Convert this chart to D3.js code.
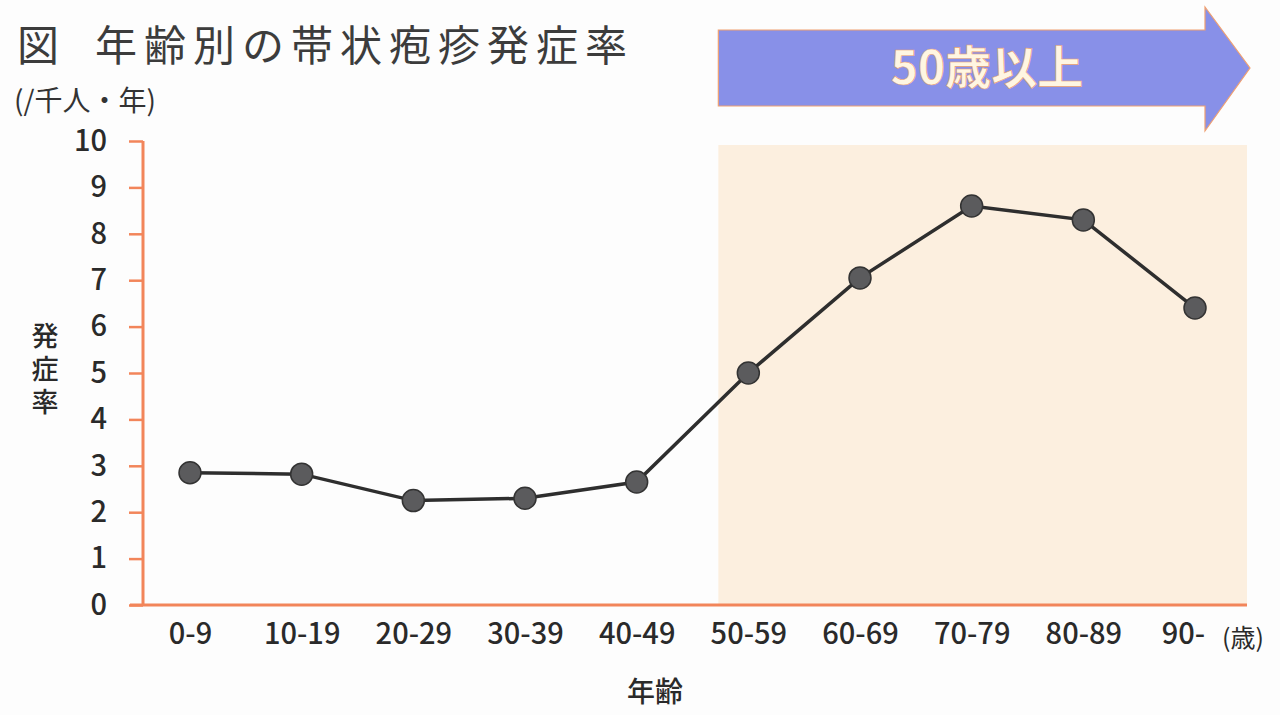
<!DOCTYPE html>
<html lang="ja">
<head>
<meta charset="utf-8">
<script src="https://d3js.org/d3.v7.min.js"></script>
<style>
	body { margin: 0; background: #fdfdfd; }
	svg text { font-family: "Noto Sans CJK JP", "Noto Sans", sans-serif; }
</style>
<title>年齢別の帯状疱疹発症率</title>
</head>
<body>
<svg id="chart" width="1280" height="715"></svg>
<script>
// data
var ageGroups = ["0-9", "10-19", "20-29", "30-39", "40-49", "50-59", "60-69", "70-79", "80-89", "90-"];
var incidence = [2.85, 2.82, 2.25, 2.3, 2.65, 5.0, 7.05, 8.6, 8.3, 6.4];
var yTicks = [0, 1, 2, 3, 4, 5, 6, 7, 8, 9, 10];
var highlightFrom = "50-59";

var svg = d3.select("#chart");
var axisColor = "#f2855a";
var textColor = "#2a2a2a";

var x = d3.scalePoint().domain(ageGroups).range([190, 1195]);
var y = d3.scaleLinear().domain([0, 10]).range([605, 141]);

// shaded 50+ area
var x0 = x(highlightFrom) - 30;
svg.append("rect")
	.attr("x", x0).attr("y", 145)
	.attr("width", 1247 - x0).attr("height", y(0) - 145)
	.attr("fill", "#fcefdf");

// arrow
var aTop = 30, aBot = 106, aMid = 68;
svg.append("path")
	.attr("d", "M" + x0 + "," + aTop + "H1205V7L1250," + aMid + "L1205,131V" + aBot + "H" + x0 + "Z")
	.attr("fill", "#8890e8")
	.attr("stroke", "#f0a070")
	.attr("stroke-width", 1.2);
svg.append("text")
	.attr("x", 987).attr("y", aMid + 16)
	.attr("text-anchor", "middle")
	.attr("font-size", 46).attr("font-weight", "bold")
	.attr("fill", "#fff6e2")
	.attr("stroke", "#e8a070").attr("stroke-width", 0.6)
	.text("50歳以上");

// title
svg.append("text")
	.attr("x", 17).attr("y", 61)
	.attr("font-size", 42)
	.attr("fill", "#3c3c3c")
	.text("図");
svg.append("text")
	.attr("x", 95).attr("y", 61)
	.attr("font-size", 42).attr("letter-spacing", 7)
	.attr("fill", "#3c3c3c")
	.text("年齢別の帯状疱疹発症率");
svg.append("text")
	.attr("x", 14).attr("y", 111)
	.attr("font-size", 28)
	.attr("fill", "#333")
	.text("(/千人・年)");

// y axis
var yAxis = svg.append("g")
	.attr("transform", "translate(143,0)")
	.call(d3.axisLeft(y).tickValues(yTicks).tickSize(14).tickPadding(22).tickFormat(d3.format("d")));
yAxis.select(".domain").attr("stroke", axisColor).attr("stroke-width", 3).attr("d", "M0," + y(10) + "V" + y(0));
yAxis.selectAll(".tick line").attr("stroke", axisColor).attr("stroke-width", 2.5);
yAxis.selectAll(".tick text")
	.attr("font-size", 29).attr("font-weight", 500).attr("fill", textColor);

// x axis
var xAxis = svg.append("g")
	.attr("transform", "translate(0," + y(0) + ")")
	.call(d3.axisBottom(x).tickSize(0).tickPadding(18));
xAxis.select(".domain").attr("stroke", axisColor).attr("stroke-width", 3).attr("d", "M130,0H1247");
xAxis.selectAll(".tick text")
	.attr("font-size", 29).attr("font-weight", 500).attr("fill", textColor)
	.attr("dx", function(d) { return d === "90-" ? -12 : 0; });

svg.append("text")
	.attr("x", 1222).attr("y", 647)
	.attr("font-size", 25).attr("fill", textColor)
	.text("(歳)");

svg.append("text")
	.attr("x", 655).attr("y", 702)
	.attr("text-anchor", "middle")
	.attr("font-size", 28).attr("font-weight", 500).attr("fill", textColor)
	.text("年齢");

// vertical y label
svg.append("text")
	.attr("x", 45).attr("y", 322)
	.style("writing-mode", "vertical-rl")
	.attr("letter-spacing", 6)
	.attr("font-size", 27).attr("font-weight", 500).attr("fill", textColor)
	.text("発症率");

// line + points
var line = d3.line()
	.x(function(d, i) { return x(ageGroups[i]); })
	.y(function(d) { return y(d); });

svg.append("path")
	.datum(incidence)
	.attr("d", line)
	.attr("fill", "none")
	.attr("stroke", "#2e2e2e")
	.attr("stroke-width", 3.5);

svg.selectAll("circle.pt")
	.data(incidence)
	.enter().append("circle")
	.attr("class", "pt")
	.attr("cx", function(d, i) { return x(ageGroups[i]); })
	.attr("cy", function(d) { return y(d); })
	.attr("r", 11)
	.attr("fill", "#5b5b5d")
	.attr("stroke", "#333")
	.attr("stroke-width", 1.5);
</script>
</body>
</html>
